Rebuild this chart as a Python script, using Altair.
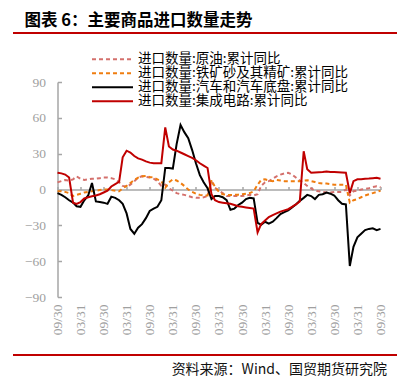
import altair as alt
import pandas as pd

# ---------------- data ----------------
dates = [d.strftime("%Y-%m-%dT00:00:00") for d in pd.date_range("2013-09-30", periods=85, freq="ME")]

series_names = [
    "进口数量:原油:累计同比",
    "进口数量:铁矿砂及其精矿:累计同比",
    "进口数量:汽车和汽车底盘:累计同比",
    "进口数量:集成电路:累计同比",
]

crude = [6, 7, 8, 7.5, 8.5, 11, 9, 8, 8.5, 9, 9, 9.5,
         10, 10, 9.5, 8.5, 6, 3, 2.5, 4, 7, 10, 11, 10.5,
         10, 9, 7, 3, 4, 1, -1, -3, -4, -4.5, -5.5, -6.5,
         -7, -7, -6.5, -5.5, 7, 1.5, -1, -3, -5.5, -5.5, -5.5, -5.5,
         -5.5, -5, -4.5, -5, -4, 3, 6, 7, 9, 11, 12.5, 13.5,
         14, 12.5, 10, 7.5, 5.5, 3, 1, -1, -1.5, -2, -2.5, -2.5,
         -2, -2, -2, 0, -5, -1.5, -1, 0, 0.5, 1, 2, 2.8,
         2]

iron_ore = [-1.5, -1.5, -2, -3, -5.5, -4.5, -3.5, -2.5, -2, -1.5, -1, -0.5,
            0, 0, -0.5, -1, -1.5, 1, 3, 5.5, 8, 10, 11, 11.3,
            10.5, 10, 8.5, 7, 1.5, 6, 8.5, 7.5, 5.5, 3, 0, -2,
            -3.5, -4.5, -5, -5, 8, 2, -2, -4, -4.5, -4.5, -4.5, -4.3,
            -4, -3.5, -3, -1.5, 4, 8, 8.5, 7.5, 7, 8, 7.5, 7,
            7, 7, 7, 7, 7.5, 7.8, 7, 6.3, 5.5, 5, 5, 4.5,
            4, 4, 4, 4, -11, -9, -8, -6.5, -5, -4, -3, -2,
            -1]

cars = [-3, -4.5, -6.5, -9, -11, -14, -14.5, -9, -5, 5.5, -10, -10.5,
        -11, -12, -6, -7, -9, -12, -20, -33, -37, -32, -29, -24,
        -18, -16, -14.5, -9, 18, 18, 17.5, 38, 54, 48, 43, 33,
        22, 12, 6, 1, -8, -5.5, -5.5, -6.5, -9, -17, -16, -13,
        -11, -8, -7, -7.5, -28, -29.5, -27, -28.5, -27, -24, -20.5, -19,
        -17.5, -15, -12.5, -9.5, -7, -4.5, -5.5, -8, -4.5, -4, -2.5, -3.5,
        -5, -9, -12, -12.5, -64, -48, -40, -37, -34, -33, -32.5, -34,
        -33]

chips = [14, 13.5, 12.5, 10, -11, -12, -10.5, -7.5, -6.5, -5.7, -5, -4,
         -2.5, -1, 2.5, 4.5, 6.5, 27, 32.5, 31, 28, 26, 25, 23.5,
         22.5, 22, 22, 22, 52, 36, 33.5, 32.5, 31, 29.5, 28, 26.5,
         24.5, 22, 20, 18, -4, -9, -10.5, -11, -11.5, -12, -13, -14,
         -14.5, -15, -15.5, -16, -36, -29, -26, -23, -21.5, -20, -18.5, -17.5,
         -16.5, -14.5, -12.5, -10, 32, 17, 14, 14.3, 14.5, 14.7, 15, 14.7,
         14.6, 14.4, 14.2, 14, -3, 7, 8.5, 8.5, 9, 9.2, 9.5, 9.8,
         9]

x_ticks = ["2013-09-30", "2014-03-31", "2014-09-30", "2015-03-31", "2015-09-30",
           "2016-03-31", "2016-09-30", "2017-03-31", "2017-09-30", "2018-03-31",
           "2018-09-30", "2019-03-31", "2019-09-30", "2020-03-31", "2020-09-30"]
y_ticks = [-90, -60, -30, 0, 30, 60, 90]

title_text = "图表 6：主要商品进口数量走势"
source_text = "资料来源：Wind、国贸期货研究院"

# ---------------- styling ----------------
W, H = 323, 215
colors = ["#d4706c", "#ef7d10", "#000000", "#c00000"]
dashes = [[4, 3], [4, 3], None, None]
GRAY_TXT = "#a0a0a0"
GRAY_LINE = "#a6a6a6"
CJK = "Noto Sans CJK SC"
SERIF = "Liberation Serif"
RED = "#c00000"


def dt(s):
    y, m, d = (int(p) for p in s[:10].split("-"))
    return alt.DateTime(year=y, month=m, date=d)


x_scale = alt.Scale(domain=[dt(dates[0]), dt(dates[-1])], nice=False)
y_scale = alt.Scale(domain=[-90, 90], nice=False, zero=False)
tick_vals = [dt(s) for s in x_ticks]

layers = []

# data lines
for name, vals, col, dash in zip(series_names, [crude, iron_ore, cars, chips], colors, dashes):
    df = pd.DataFrame({"date": dates, "value": vals})
    kw = dict(color=col, strokeWidth=2)
    if dash is not None:
        kw["strokeDash"] = dash
    layers.append(
        alt.Chart(df).mark_line(**kw).encode(
            x=alt.X("date:T", scale=x_scale, axis=None),
            y=alt.Y("value:Q", scale=y_scale, axis=None),
        )
    )

tick_df = pd.DataFrame({"d": [s + "T00:00:00" for s in x_ticks]})
ytick_df = pd.DataFrame({"v": y_ticks})

# x labels at bottom
layers.append(
    alt.Chart(tick_df).mark_point(opacity=0).encode(
        x=alt.X("d:T", scale=x_scale, axis=alt.Axis(
            orient="bottom", values=tick_vals, format="%m/%d", labelAngle=-90,
            labelFlush=False, labelOverlap=False, domain=False, ticks=False, grid=False,
            labelPadding=7, labelColor=GRAY_TXT, labelFont=SERIF, labelFontSize=13.5, title=None))
    )
)
# zero line with upward ticks
layers.append(
    alt.Chart(tick_df).mark_point(opacity=0).encode(
        x=alt.X("d:T", scale=x_scale, axis=alt.Axis(
            orient="top", offset=-H / 2, values=tick_vals, labels=False, ticks=True,
            tickSize=3, tickColor=GRAY_LINE, tickWidth=1.5, domain=True,
            domainColor=GRAY_LINE, domainWidth=1.5, grid=False, title=None))
    )
)
# y labels at left
layers.append(
    alt.Chart(ytick_df).mark_point(opacity=0).encode(
        y=alt.Y("v:Q", scale=y_scale, axis=alt.Axis(
            orient="left", values=y_ticks, domain=False, ticks=False, grid=False,
            labelPadding=12, labelColor=GRAY_TXT, labelFont=SERIF, labelFontSize=13.5, title=None))
    )
)
# y axis line with inward ticks
layers.append(
    alt.Chart(ytick_df).mark_point(opacity=0).encode(
        y=alt.Y("v:Q", scale=y_scale, axis=alt.Axis(
            orient="right", offset=-W, values=y_ticks, labels=False, ticks=True,
            tickSize=4, tickColor=GRAY_LINE, tickWidth=1.5, domain=True,
            domainColor=GRAY_LINE, domainWidth=1.5, grid=False, title=None))
    )
)

dummy = pd.DataFrame({"a": [0]})

# legend (manual)
LEG_Y0, LEG_DY = -22.7, 14
for i, (name, col, dash) in enumerate(zip(series_names, colors, dashes)):
    yy = LEG_Y0 + i * LEG_DY
    kw = dict(color=col, strokeWidth=2)
    if dash is not None:
        kw["strokeDash"] = dash
    layers.append(alt.Chart(dummy).mark_rule(**kw).encode(
        x=alt.value(34.5), x2=alt.value(75.5), y=alt.value(yy)))
    layers.append(alt.Chart(dummy).mark_text(
        text=name, align="left", baseline="middle", font=CJK, fontSize=13.5, color="#000000"
    ).encode(x=alt.value(80.5), y=alt.value(yy)))

# title + red rules + source
layers.append(alt.Chart(dummy).mark_text(
    text=title_text, align="left", baseline="middle", font=CJK, fontSize=16.5,
    fontWeight="bold", color="#000000").encode(x=alt.value(-33), y=alt.value(-61)))
layers.append(alt.Chart(dummy).mark_rule(color=RED, strokeWidth=2.2).encode(
    x=alt.value(-44.5), x2=alt.value(339.5), y=alt.value(-49)))
layers.append(alt.Chart(dummy).mark_rule(color=RED, strokeWidth=2.2).encode(
    x=alt.value(-44.5), x2=alt.value(339.5), y=alt.value(273)))
layers.append(alt.Chart(dummy).mark_text(
    text=source_text, align="right", baseline="middle", font=CJK, fontSize=14,
    color="#111111").encode(x=alt.value(329.5), y=alt.value(288)))

chart = (
    alt.layer(*layers)
    .resolve_axis(x="independent", y="independent")
    .properties(
        width=W, height=H,
        padding={"left": 49.5, "top": 74, "right": 25.5, "bottom": 85},
        autosize=alt.AutoSizeParams(type="none"),
        background="white",
    )
    .configure_view(stroke=None)
)

chart.save("out.html", embed_options={"renderer": "svg", "actions": False})
